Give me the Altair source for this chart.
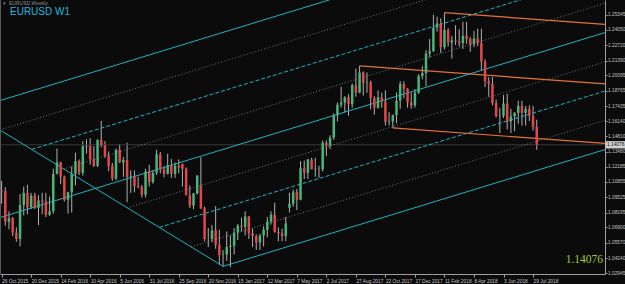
import altair as alt
import pandas as pd

# ---------------- data (weekly EURUSD, week starting 25 Oct 2015) ----------------
OPEN = [1.1015,1.1005,1.0740,1.0770,1.0645,1.0590,1.0885,1.0990,1.0865,1.0965,
        1.0860,1.0925,1.0915,1.0800,1.0830,1.1155,1.1255,1.1130,1.0930,1.0995,
        1.1155,1.1265,1.1165,1.1395,1.1400,1.1280,1.1225,1.1450,1.1405,1.1310,
        1.1225,1.1115,1.1365,1.1255,1.1275,1.1130,1.1135,1.1050,1.1040,1.0975,
        1.1175,1.1085,1.1165,1.1325,1.1195,1.1155,1.1230,1.1155,1.1225,1.1240,
        1.1200,1.0970,1.0880,1.0985,1.1050,1.0855,1.0590,1.0590,1.0665,1.0540,
        1.0450,1.0455,1.0520,1.0530,1.0645,1.0705,1.0695,1.0785,1.0640,1.0615,
        1.0560,1.0620,1.0670,1.0740,1.0800,1.0650,1.0640,1.0615,1.0860,1.0895,
        1.1000,1.0930,1.1205,1.1165,1.1280,1.1195,1.1200,1.1195,1.1425,1.1400,
        1.1470,1.1665,1.1755,1.1775,1.1820,1.1760,1.1925,1.1860,1.2035,1.1945,
        1.1950,1.1815,1.1730,1.1820,1.1785,1.1605,1.1610,1.1665,1.1790,1.1935,
        1.1895,1.1775,1.1750,1.1860,1.2005,1.2030,1.2200,1.2220,1.2425,1.2460,
        1.2255,1.2405,1.2295,1.2315,1.2305,1.2290,1.2355,1.2325,1.2280,1.2330,
        1.2290,1.2130,1.1960,1.1935,1.1770,1.1655,1.1660,1.1765,1.1610,1.1655,
        1.1685,1.1745,1.1685,1.1720,1.1660,1.1565]
HIGH = [1.1095,1.1040,1.0830,1.0780,1.0690,1.0980,1.1045,1.1060,1.0990,1.0990,
        1.0970,1.0990,1.0990,1.0960,1.1200,1.1375,1.1260,1.1140,1.1000,1.1220,
        1.1340,1.1280,1.1440,1.1455,1.1465,1.1395,1.1455,1.1615,1.1440,1.1350,
        1.1250,1.1375,1.1415,1.1300,1.1425,1.1185,1.1185,1.1130,1.1060,1.1200,
        1.1235,1.1185,1.1365,1.1345,1.1220,1.1330,1.1285,1.1255,1.1280,1.1245,
        1.1210,1.1055,1.0990,1.1145,1.1300,1.0870,1.0685,1.0710,1.0875,1.0670,
        1.0495,1.0655,1.0620,1.0685,1.0720,1.0775,1.0830,1.0790,1.0680,1.0630,
        1.0635,1.0700,1.0780,1.0830,1.0905,1.0690,1.0680,1.0780,1.0990,1.1020,
        1.1025,1.1265,1.1270,1.1285,1.1295,1.1295,1.1225,1.1445,1.1445,1.1490,
        1.1680,1.1775,1.1910,1.1830,1.1845,1.1940,1.2070,1.2092,1.2045,1.2035,
        1.1965,1.1830,1.1880,1.1860,1.1880,1.1690,1.1670,1.1860,1.1960,1.1960,
        1.1900,1.1860,1.1890,1.2020,1.2090,1.2230,1.2325,1.2535,1.2520,1.2505,
        1.2555,1.2420,1.2350,1.2445,1.2410,1.2475,1.2475,1.2345,1.2395,1.2415,
        1.2415,1.2150,1.1995,1.1995,1.1800,1.1725,1.1840,1.1850,1.1720,1.1690,
        1.1790,1.1790,1.1745,1.1750,1.1745,1.1625]
LOW = [1.0896,1.0705,1.0675,1.0615,1.0565,1.0525,1.0795,1.0805,1.0850,1.0850,
       1.0710,1.0805,1.0780,1.0790,1.0810,1.1150,1.1065,1.0915,1.0810,1.0820,
       1.1055,1.1145,1.1140,1.1330,1.1235,1.1215,1.1215,1.1385,1.1295,1.1180,
       1.1095,1.1100,1.1250,1.1130,1.0910,1.0990,1.0995,1.1030,1.0950,1.0950,
       1.1045,1.1070,1.1145,1.1160,1.1125,1.1150,1.1120,1.1120,1.1160,1.1045,
       1.0970,1.0860,1.0850,1.0975,1.0850,1.0570,1.0520,1.0560,1.0505,1.0365,
       1.0352,1.0400,1.0345,1.0455,1.0580,1.0655,1.0620,1.0590,1.0520,1.0495,
       1.0495,1.0525,1.0605,1.0715,1.0645,1.0570,1.0570,1.0570,1.0820,1.0870,
       1.0840,1.0925,1.1110,1.1110,1.1195,1.1130,1.1120,1.1175,1.1310,1.1370,
       1.1450,1.1610,1.1730,1.1690,1.1660,1.1730,1.1825,1.1855,1.1835,1.1860,
       1.1715,1.1670,1.1720,1.1730,1.1575,1.1575,1.1554,1.1595,1.1720,1.1810,
       1.1730,1.1720,1.1730,1.1850,1.1975,1.1915,1.2165,1.2215,1.2390,1.2205,
       1.2235,1.2260,1.2155,1.2275,1.2260,1.2240,1.2285,1.2215,1.2255,1.2265,
       1.2055,1.1910,1.1825,1.1750,1.1645,1.1510,1.1640,1.1540,1.1510,1.1525,
       1.1590,1.1575,1.1575,1.1615,1.1530,1.1365]
CLOSE = [1.1005,1.0740,1.0770,1.0645,1.0590,1.0885,1.0990,1.0865,1.0965,1.0860,
         1.0925,1.0915,1.0800,1.0830,1.1155,1.1255,1.1130,1.0930,1.0995,1.1155,
         1.1265,1.1165,1.1395,1.1400,1.1280,1.1225,1.1450,1.1405,1.1310,1.1225,
         1.1115,1.1365,1.1255,1.1275,1.1130,1.1135,1.1050,1.1040,1.0975,1.1175,
         1.1085,1.1165,1.1325,1.1195,1.1155,1.1230,1.1155,1.1225,1.1210,1.1200,
         1.0970,1.0880,1.0985,1.1140,1.0855,1.0590,1.0590,1.0665,1.0540,1.0450,
         1.0455,1.0520,1.0530,1.0645,1.0705,1.0695,1.0785,1.0640,1.0615,1.0560,
         1.0620,1.0670,1.0740,1.0800,1.0650,1.0640,1.0615,1.0725,1.0895,1.0995,
         1.0930,1.1205,1.1165,1.1280,1.1195,1.1200,1.1195,1.1425,1.1400,1.1470,
         1.1665,1.1755,1.1775,1.1820,1.1760,1.1925,1.1860,1.2035,1.1945,1.1950,
         1.1815,1.1730,1.1820,1.1785,1.1605,1.1610,1.1665,1.1790,1.1935,1.1895,
         1.1775,1.1750,1.1860,1.2005,1.2030,1.2200,1.2220,1.2425,1.2460,1.2255,
         1.2405,1.2295,1.2315,1.2305,1.2290,1.2355,1.2325,1.2280,1.2330,1.2290,
         1.2130,1.1960,1.1935,1.1770,1.1655,1.1660,1.1765,1.1610,1.1655,1.1685,
         1.1745,1.1685,1.1720,1.1660,1.1565,1.14076]

DATE_LABELS = ["26 Oct 2015", "20 Dec 2015", "14 Feb 2016", "10 Apr 2016", "5 Jun 2016",
               "31 Jul 2016", "25 Sep 2016", "20 Nov 2016", "15 Jan 2017", "12 Mar 2017",
               "7 May 2017", "2 Jul 2017", "27 Aug 2017", "22 Oct 2017", "17 Dec 2017",
               "11 Feb 2018", "8 Apr 2018", "3 Jun 2018", "29 Jul 2018"]
DATE_TICKS = [8 * k for k in range(len(DATE_LABELS))]
PRICE_TICKS = [1.02945, 1.04240, 1.05570, 1.06900, 1.08195, 1.09525, 1.10855, 1.12185,
               1.13480, 1.14810, 1.16140, 1.17435, 1.18765, 1.20095, 1.21390, 1.22720,
               1.24050, 1.25345]
LAST_PRICE = 1.14076

# visible range (bar index / price)
X_MIN, X_END = -0.434, 163.5
Y_MIN, Y_MAX = 1.028582, 1.266468

# cyan channel: pivot low, slope per bar, channel width, handle start
CYAN_PIVOT = (60, 1.0352)
CYAN_SLOPE = 0.00098
CYAN_WIDTH = 0.10158
CYAN_HANDLE_START = (X_MIN, 1.1536)
CYAN_LEVELS = [0, 0.25, 0.5, 0.75, 1, 1.25, 1.5, 1.75, 2]

# orange Andrews pitchfork pivots
PF_P1 = (97, 1.2092)
PF_P2 = (106, 1.1554)
PF_P3 = (120, 1.2555)

# ---------------- build tables ----------------
n = len(CLOSE)
candles = pd.DataFrame({"i": list(range(n)), "O": OPEN, "H": HIGH, "L": LOW, "C": CLOSE})
candles["dir"] = ["up" if c >= o else "down" for o, c in zip(OPEN, CLOSE)]

hs = (CYAN_PIVOT[1] - CYAN_HANDLE_START[1]) / (CYAN_PIVOT[0] - CYAN_HANDLE_START[0])
rows = []
def cyan_p(i, m):
    return CYAN_PIVOT[1] + CYAN_SLOPE * (i - CYAN_PIVOT[0]) + m * CYAN_WIDTH
for m in CYAN_LEVELS:
    if m == 0:
        s = CYAN_PIVOT[0]
    elif m in (1, 2):
        s = X_MIN
    else:
        s = CYAN_PIVOT[0] - m * CYAN_WIDTH / (CYAN_SLOPE - hs)
        s = max(s, X_MIN)
    if m in (0, 1, 2):
        style = "solid"
    elif m in (0.5, 1.5):
        style = "dash"
    else:
        style = "dot"
    for ii in (s, X_END):
        rows.append({"id": f"c{m}", "style": style, "i": ii, "p": cyan_p(ii, m)})
rows.append({"id": "handle", "style": "solid", "i": CYAN_HANDLE_START[0], "p": CYAN_HANDLE_START[1]})
rows.append({"id": "handle", "style": "solid", "i": CYAN_PIVOT[0], "p": CYAN_PIVOT[1]})

mid = ((PF_P2[0] + PF_P3[0]) / 2, (PF_P2[1] + PF_P3[1]) / 2)
pf_slope = (mid[1] - PF_P1[1]) / (mid[0] - PF_P1[0])
for name, P in (("o1", PF_P1), ("o2", PF_P2), ("o3", PF_P3)):
    rows.append({"id": name, "style": "orange", "i": P[0], "p": P[1]})
    rows.append({"id": name, "style": "orange", "i": X_END, "p": P[1] + pf_slope * (X_END - P[0])})
lines = pd.DataFrame(rows)

# ---------------- chart ----------------
label_expr = "[" + ",".join(f"'{d}'" for d in DATE_LABELS) + "][round(datum.value/8)]"
xs = alt.Scale(domain=[X_MIN, X_END], nice=False, zero=False)
ys = alt.Scale(domain=[Y_MIN, Y_MAX], nice=False, zero=False)
AX = dict(labelFontSize=4.8, labelColor="#c4c4c4", tickColor="#a0a0a0", domainColor="#a0a0a0",
          labelFont="Liberation Sans", grid=False, title=None, labelOverlap=False, labelFlush=False,
          labelBound=False)
XAX = alt.Axis(orient="bottom", values=DATE_TICKS, labelExpr=label_expr, labelAlign="left",
               labelPadding=1, tickSize=3, **AX)
YAX = alt.Axis(orient="right", values=PRICE_TICKS, format=".5f", tickSize=2, labelPadding=0.5, **AX)

def X(field="i"):
    return alt.X(f"{field}:Q", scale=xs, axis=XAX)

def Y(field):
    return alt.Y(f"{field}:Q", scale=ys, axis=YAX)

base_l = alt.Chart(lines)
dotted = base_l.transform_filter("datum.style=='dot'").mark_line(
    clip=True, color="#8a8a8a", strokeWidth=0.8, strokeDash=[1, 2]).encode(
    x=X(), y=Y("p"), detail="id:N")
dashed = base_l.transform_filter("datum.style=='dash'").mark_line(
    clip=True, color="#1fb3c2", strokeWidth=1, strokeDash=[4, 2]).encode(
    x=X(), y=Y("p"), detail="id:N")
solid = base_l.transform_filter("datum.style=='solid'").mark_line(
    clip=True, color="#1fb3c2", strokeWidth=1).encode(
    x=X(), y=Y("p"), detail="id:N")
orange = base_l.transform_filter("datum.style=='orange'").mark_line(
    clip=True, color="#e2733c", strokeWidth=1.2).encode(
    x=X(), y=Y("p"), detail="id:N")

bid = alt.Chart(pd.DataFrame({"p": [LAST_PRICE]})).mark_rule(color="#3a3a3a", strokeWidth=1).encode(
    y=Y("p"))

base_c = alt.Chart(candles)
wick = base_c.mark_rule(color="#b0b0b0", strokeWidth=1).encode(
    x=X(), y=Y("L"), y2="H:Q")
body = base_c.mark_rule(strokeWidth=2.5).encode(
    x=X(), y=Y("O"), y2="C:Q",
    color=alt.Color("dir:N", scale=alt.Scale(domain=["up", "down"], range=["#48b57a", "#e2474c"]),
                    legend=None))

box_df = pd.DataFrame({"lo": [LAST_PRICE - 0.0032], "hi": [LAST_PRICE + 0.0032], "p": [LAST_PRICE],
                       "t": [f"{LAST_PRICE:.5f}"]})
box = alt.Chart(box_df).mark_rect(color="#cfcfcf").encode(
    x=alt.value(605.5), x2=alt.value(625), y=Y("lo"), y2="hi:Q")
box_t = alt.Chart(box_df).mark_text(fontSize=4.8, color="#111111", align="left",
                                    font="Liberation Sans").encode(
    x=alt.value(607), y=Y("p"), text="t:N")
big = alt.Chart(box_df).mark_text(fontSize=11.5, color="#9acd32", align="right", baseline="alphabetic",
                                  font="Liberation Serif").encode(
    x=alt.value(603), y=alt.value(263), text="t:N")

title_df = pd.DataFrame({"a": ["EURUSD W1"], "b": ["EURUSD,Weekly"], "c": ["\u25be"]})
t1 = alt.Chart(title_df).mark_text(fontSize=10, color="#22b6e0", align="left", baseline="alphabetic",
                                   font="Liberation Sans").encode(
    x=alt.value(10), y=alt.value(15), text="a:N")
t2 = alt.Chart(title_df).mark_text(fontSize=5, color="#8c8c8c", align="left", baseline="alphabetic",
                                   font="Liberation Sans").encode(
    x=alt.value(9), y=alt.value(5), text="b:N")
t3 = alt.Chart(title_df).mark_text(fontSize=5, color="#8c8c8c", align="left", baseline="alphabetic").encode(
    x=alt.value(3), y=alt.value(5), text="c:N")
left_border = alt.Chart(title_df).mark_rule(color="#5a5a5a", strokeWidth=1).encode(x=alt.value(0.5))

chart = alt.layer(wick, bid, dotted, dashed, solid, orange, body, box, box_t, big, t1, t2, t3,
                  left_border).properties(
    width=605, height=274,
    autosize=alt.AutoSizeParams(type="none"),
    padding={"left": 0, "top": 0, "right": 20, "bottom": 10},
    background="#0b0b0b",
).configure_view(stroke=None)

chart.save("out.html", embed_options={"renderer": "svg", "actions": False})
